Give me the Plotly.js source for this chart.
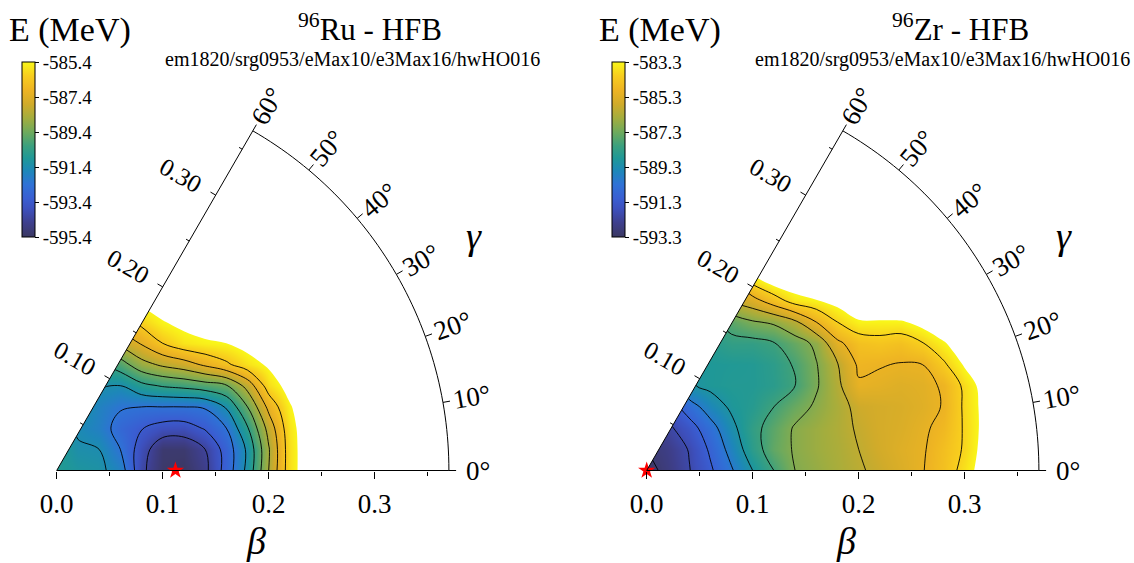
<!DOCTYPE html>
<html>
<head>
<meta charset="utf-8">
<script src="https://cdn.plot.ly/plotly-3.0.1.min.js"></script>
<style>html,body{margin:0;padding:0;background:#fff;}</style>
</head>
<body>
<div id="chart" style="width:1134px;height:563px;"></div>
<script>
// ---- data ----
// cartesian grid of the beta-gamma plane: x = beta*cos(gamma), y = beta*sin(gamma)
const xGrid = [0,0.02,0.04,0.06,0.08,0.10,0.12,0.14,0.16,0.18,0.20,0.22,0.24,0.26,0.28,0.30,0.32,0.34];
const yGrid = [0,0.02,0.04,0.06,0.08,0.10,0.12,0.14,0.16,0.18,0.20];

// HFB energy surface of 96Ru (MeV), rows = yGrid, columns = xGrid
const energyRu = [
 [-590.76,-591.04,-591.17,-591.85,-594.15,-595.25,-595.35,-594.65,-593.0,-591.13,-588.4,-585.85,-584.6,-584.6,-584.6,-584.6,-584.6,-584.6],
 [-590.67,-591.31,-591.4,-592.4,-593.9,-595.15,-595.15,-594.4,-593.0,-591.22,-588.49,-585.85,-584.6,-584.6,-584.6,-584.6,-584.6,-584.6],
 [-590.58,-591.5,-591.9,-592.8,-593.35,-593.8,-593.85,-593.3,-592.4,-590.49,-588.04,-585.76,-584.6,-584.6,-584.6,-584.6,-584.6,-584.6],
 [-590.4,-591.04,-591.8,-592.3,-592.4,-592.4,-592.4,-592.3,-591.31,-589.4,-587.13,-585.49,-584.6,-584.6,-584.6,-584.6,-584.6,-584.6],
 [-590.04,-590.49,-591.31,-591.4,-590.67,-590.31,-590.13,-589.85,-589.49,-588.04,-585.9,-585.04,-584.6,-584.6,-584.6,-584.6,-584.6,-584.6],
 [-589.58,-590.04,-590.49,-589.85,-588.76,-588.22,-587.85,-587.22,-586.58,-585.81,-585.26,-584.6,-584.6,-584.6,-584.6,-584.6,-584.6,-584.6],
 [-588.67,-588.67,-588.49,-588.13,-587.31,-586.4,-585.76,-585.54,-585.4,-585.04,-584.6,-584.6,-584.6,-584.6,-584.6,-584.6,-584.6,-584.6],
 [-587.76,-587.58,-587.31,-586.85,-586.13,-585.45,-585.13,-584.86,-584.6,-584.6,-584.6,-584.6,-584.6,-584.6,-584.6,-584.6,-584.6,-584.6],
 [-586.85,-586.4,-585.94,-585.58,-585.13,-584.86,-584.6,-584.6,-584.6,-584.6,-584.6,-584.6,-584.6,-584.6,-584.6,-584.6,-584.6,-584.6],
 [-585.94,-585.49,-585.22,-585.04,-584.86,-584.6,-584.6,-584.6,-584.6,-584.6,-584.6,-584.6,-584.6,-584.6,-584.6,-584.6,-584.6,-584.6],
 [-585.49,-585.04,-584.86,-584.67,-584.6,-584.6,-584.6,-584.6,-584.6,-584.6,-584.6,-584.6,-584.6,-584.6,-584.6,-584.6,-584.6,-584.6]
];

// HFB energy surface of 96Zr (MeV)
const energyZr = [
 [-593.3,-592.75,-592.05,-591.15,-590.1,-589.0,-588.0,-587.0,-586.7,-586.4,-586.1,-585.8,-585.45,-585.05,-584.5,-583.7,-582.8,-582.0],
 [-593.0,-592.6,-591.95,-590.85,-589.65,-588.45,-587.5,-586.9,-586.6,-586.35,-586.0,-585.65,-585.35,-585.1,-584.55,-583.9,-582.9,-582.0],
 [-592.5,-592.2,-591.45,-590.4,-589.25,-588.3,-587.6,-586.9,-586.6,-586.3,-585.9,-585.6,-585.45,-585.15,-584.75,-583.9,-583.0,-582.0],
 [-592.0,-591.6,-590.5,-589.5,-588.85,-588.6,-588.0,-587.4,-586.85,-586.35,-585.75,-585.6,-585.5,-585.3,-584.95,-583.85,-583.0,-582.0],
 [-591.5,-591.0,-589.1,-588.8,-588.7,-588.7,-588.5,-588.0,-587.1,-586.2,-585.1,-585.2,-585.35,-585.25,-584.9,-583.8,-582.9,-582.0],
 [-590.0,-589.5,-589.0,-588.8,-588.75,-588.7,-588.45,-587.9,-587.05,-586.05,-584.85,-584.95,-585.05,-585.0,-584.15,-583.2,-582.5,-582.0],
 [-589.5,-589.0,-588.8,-588.6,-588.3,-588.3,-588.05,-587.45,-586.8,-585.2,-584.5,-584.35,-584.5,-584.05,-583.4,-582.7,-582.2,-582.0],
 [-589.0,-588.7,-588.5,-588.3,-587.6,-587.1,-586.85,-586.2,-585.0,-584.0,-583.4,-583.4,-583.4,-583.0,-582.5,-582.0,-582.0,-582.0],
 [-588.5,-588.2,-588.0,-587.5,-586.0,-585.4,-584.5,-583.6,-583.35,-583.0,-582.5,-582.3,-582.0,-582.0,-582.0,-582.0,-582.0,-582.0],
 [-587.5,-587.0,-586.5,-586.0,-585.0,-583.6,-582.8,-582.7,-582.5,-582.3,-582.0,-582.0,-582.0,-582.0,-582.0,-582.0,-582.0,-582.0],
 [-586.5,-586.0,-585.5,-585.0,-584.5,-582.5,-582.3,-582.0,-582.0,-582.0,-582.0,-582.0,-582.0,-582.0,-582.0,-582.0,-582.0,-582.0]
];

const ruRange = [-595.4, -585.4];
const zrRange = [-593.3, -583.3];
const ruColorbarTicks = [-595.4, -593.4, -591.4, -589.4, -587.4, -585.4];
const zrColorbarTicks = [-593.3, -591.3, -589.3, -587.3, -585.3, -583.3];
const ruLevels = {start: -594.4, end: -586.4, size: 1};
const zrLevels = {start: -593, end: -584, size: 1};
const ruMinimum = {beta: 0.112, gammaDeg: 0};
const zrMinimum = {beta: 0.0, gammaDeg: 0};

const betaTicks = [0, 0.1, 0.2, 0.3];
const betaTickText = ['0.0', '0.1', '0.2', '0.3'];
const betaMinorTicks = [0.05, 0.15, 0.25, 0.35];
const edgeTicks = [0.1, 0.2, 0.3];
const edgeTickText = ['0.10', '0.20', '0.30'];
const edgeMinorTicks = [0.05, 0.15, 0.25, 0.35];
const gammaTicks = [0, 10, 20, 30, 40, 50, 60];
const betaMax = 0.37;
const titles = ['<sup>96</sup>Ru - HFB', '<sup>96</sup>Zr - HFB'];
const subtitle = 'em1820/srg0953/eMax10/e3Max16/hwHO016';

// ---- styling ----
const FONT = 'Liberation Serif, Times New Roman, serif';
const W = 1134, H = 563;
const PX = 1060;               // pixels per unit of beta
const baseY = 470.5;           // baseline pixel row
const colorscale = [
 [0.00,'#3b3862'],[0.08,'#3e3f8c'],[0.16,'#3d50bd'],[0.22,'#3a5ed2'],
 [0.30,'#2f72d6'],[0.38,'#1d88b8'],[0.45,'#1f9897'],[0.52,'#3ba07e'],
 [0.60,'#6faa5c'],[0.68,'#a3ad3e'],[0.76,'#d1ab2a'],[0.84,'#eeb423'],
 [0.92,'#f8cd1e'],[1.00,'#f9f719']
];

const panels = [
 {xa:'x', ya:'y', z:energyRu, rng:ruRange, lev:ruLevels, cbt:ruColorbarTicks, mn:ruMinimum, title:titles[0], off:0},
 {xa:'x2', ya:'y2', z:energyZr, rng:zrRange, lev:zrLevels, cbt:zrColorbarTicks, mn:zrMinimum, title:titles[1], off:590}
];

const traces = [], shapes = [], annotations = [];
const rad = d => d * Math.PI / 180;
const pt = (r, g) => [r * Math.cos(rad(g)), r * Math.sin(rad(g))];
const whiteBox = (P, xs, ys) => ({type: 'scatter', mode: 'lines', xaxis: P.xa, yaxis: P.ya,
  hoverinfo: 'skip', x: xs, y: ys, fill: 'toself', fillcolor: '#ffffff',
  line: {width: 0, color: 'rgba(0,0,0,0)'}});

panels.forEach(P => {
  const common = {x: xGrid, y: yGrid, z: P.z, xaxis: P.xa, yaxis: P.ya, hoverinfo: 'skip'};
  // smooth colour surface
  traces.push(Object.assign({}, common, {
    type: 'contour', colorscale: colorscale, zauto: false, zmin: P.rng[0], zmax: P.rng[1],
    contours: {coloring: 'heatmap', showlines: false, start: P.lev.start, end: P.lev.end, size: P.lev.size},
    line: {width: 0},
    showscale: true,
    colorbar: {
      x: (22 + P.off) / W, xanchor: 'left', xref: 'paper', xpad: 0, ypad: 0,
      y: 1 - 62 / H, yanchor: 'top', yref: 'paper',
      len: 175, lenmode: 'pixels', thickness: 13, thicknessmode: 'pixels',
      outlinewidth: 1, outlinecolor: '#000', borderwidth: 0,
      ticks: 'outside', ticklen: 4, tickwidth: 1, tickcolor: '#000',
      tickmode: 'array', tickvals: P.cbt, ticktext: P.cbt.map(v => v.toFixed(1)),
      tickfont: {family: FONT, size: 19, color: '#000'}
    }
  }));
  // white outside the energy window (the shaded side is the one failing the constraint)
  traces.push(Object.assign({}, common, {
    type: 'contour', showscale: false,
    contours: {type: 'constraint', operation: '<', value: P.rng[1]},
    fillcolor: '#ffffff', line: {width: 0, color: 'rgba(0,0,0,0)', smoothing: 1}
  }));
  // black iso-energy lines
  traces.push(Object.assign({}, common, {
    type: 'contour', showscale: false,
    contours: {coloring: 'none', start: P.lev.start, end: P.lev.end, size: P.lev.size},
    line: {color: '#000', width: 0.9, smoothing: 1}
  }));
  // masks: beyond gamma = 60 deg, below the baseline, along the outer grid borders
  const t60 = Math.tan(rad(60));
  traces.push(whiteBox(P, [0, 0.16, -0.03, -0.03, 0], [0, 0.16 * t60, 0.16 * t60, 0, 0]));
  traces.push(whiteBox(P, [-0.03, 0.38, 0.38, -0.03, -0.03], [0, 0, -0.015, -0.015, 0]));
  traces.push(whiteBox(P, [-0.03, 0.38, 0.38, -0.03, -0.03], [0.195, 0.195, 0.27, 0.27, 0.195]));
  traces.push(whiteBox(P, [0.335, 0.36, 0.36, 0.335, 0.335], [0, 0, 0.27, 0.27, 0]));
  // minimum
  const m = pt(P.mn.beta, P.mn.gammaDeg);
  traces.push({type: 'scatter', mode: 'markers', xaxis: P.xa, yaxis: P.ya, hoverinfo: 'skip',
    x: [m[0]], y: [m[1]], cliponaxis: false,
    marker: {symbol: 'star', size: 13, color: '#ff0000', line: {width: 0}}});

  // ---- frame ----
  const L = {color: '#000', width: 1};
  const sref = {xref: P.xa, yref: P.ya, layer: 'above'};
  shapes.push(Object.assign({type: 'line', x0: 0, y0: 0, x1: betaMax, y1: 0, line: L}, sref));
  const e60 = pt(betaMax, 60);
  shapes.push(Object.assign({type: 'line', x0: 0, y0: 0, x1: e60[0], y1: e60[1], line: L}, sref));
  let path = '';
  for (let g = 0; g <= 60; g += 1) {
    const p = pt(betaMax, g);
    path += (g === 0 ? 'M' : 'L') + p[0].toFixed(5) + ',' + p[1].toFixed(5);
  }
  shapes.push(Object.assign({type: 'path', path: path, line: L}, sref));
  // angular ticks and labels
  gammaTicks.forEach(g => {
    const a = pt(betaMax, g), b = pt(betaMax + 7.2 / PX, g), c = pt(betaMax + 29 / PX, g);
    shapes.push(Object.assign({type: 'line', x0: a[0], y0: a[1], x1: b[0], y1: b[1], line: L}, sref));
    annotations.push({xref: P.xa, yref: P.ya, x: c[0], y: c[1], text: g + '°', showarrow: false,
      xanchor: 'center', yanchor: 'middle', textangle: -g,
      font: {family: FONT, size: 27, color: '#000'}});
  });
  // radial ticks along the 60 deg edge
  const nx = -Math.sin(rad(60)), ny = Math.cos(rad(60));
  edgeTicks.forEach((r, i) => {
    const a = pt(r, 60);
    shapes.push(Object.assign({type: 'line', x0: a[0], y0: a[1],
      x1: a[0] + nx * 6 / PX, y1: a[1] + ny * 6 / PX, line: L}, sref));
    annotations.push({xref: P.xa, yref: P.ya, x: a[0] + nx * 40 / PX, y: a[1] + ny * 40 / PX,
      text: edgeTickText[i], showarrow: false, xanchor: 'center', yanchor: 'middle', textangle: 30,
      font: {family: FONT, size: 25, color: '#000'}});
  });
  edgeMinorTicks.forEach(r => {
    const a = pt(r, 60);
    shapes.push(Object.assign({type: 'line', x0: a[0], y0: a[1],
      x1: a[0] + nx * 3.6 / PX, y1: a[1] + ny * 3.6 / PX, line: L}, sref));
  });
  // axis names
  annotations.push({xref: P.xa, yref: P.ya, x: (474 - 56.7) / PX, y: (baseY - 236) / PX,
    text: '<i>γ</i>', showarrow: false, xanchor: 'center', yanchor: 'middle',
    font: {family: FONT, size: 38, color: '#000'}});
  annotations.push({xref: P.xa, yref: P.ya, x: (256 - 56.7) / PX, y: (baseY - 541) / PX,
    text: '<i>β</i>', showarrow: false, xanchor: 'center', yanchor: 'middle',
    font: {family: FONT, size: 38, color: '#000'}});
  // titles
  annotations.push({xref: 'paper', yref: 'paper', x: (370 + P.off) / W, y: 1 - 27 / H,
    text: P.title, showarrow: false, xanchor: 'center', yanchor: 'middle',
    font: {family: FONT, size: 31, color: '#000'}});
  annotations.push({xref: 'paper', yref: 'paper', x: (352 + P.off) / W, y: 1 - 60 / H,
    text: subtitle, showarrow: false, xanchor: 'center', yanchor: 'middle',
    font: {family: FONT, size: 20, color: '#000'}});
  annotations.push({xref: 'paper', yref: 'paper', x: (70 + P.off) / W, y: 1 - 30 / H,
    text: 'E (MeV)', showarrow: false, xanchor: 'center', yanchor: 'middle',
    font: {family: FONT, size: 34, color: '#000'}});
});

function xAxis(domPx, originPx) {
  return {
    domain: [domPx[0] / W, domPx[1] / W],
    range: [(domPx[0] - originPx) / PX, (domPx[1] - originPx) / PX],
    anchor: 'free', position: (H - baseY) / H,
    showgrid: false, zeroline: false, showline: false,
    ticks: 'outside', ticklen: 7, tickwidth: 1, tickcolor: '#000',
    tickmode: 'array', tickvals: betaTicks, ticktext: betaTickText,
    tickfont: {family: FONT, size: 27, color: '#000'},
    ticklabelstandoff: 2,
    minor: {tickmode: 'array', tickvals: betaMinorTicks, ticks: 'outside', ticklen: 4,
            tickwidth: 1, tickcolor: '#000', showgrid: false},
    fixedrange: true
  };
}
function yAxis(anchor) {
  return {domain: [0, 1], range: [-(H - baseY) / PX, baseY / PX], visible: false,
          anchor: anchor, fixedrange: true, showgrid: false, zeroline: false};
}

const layout = {
  width: W, height: H, margin: {l: 0, r: 0, t: 0, b: 0},
  paper_bgcolor: '#ffffff', plot_bgcolor: 'rgba(0,0,0,0)',
  showlegend: false, font: {family: FONT, color: '#000'},
  xaxis: xAxis([0, 560], 56.7), yaxis: yAxis('x'),
  xaxis2: xAxis([590, 1134], 646.7), yaxis2: yAxis('x2'),
  shapes: shapes, annotations: annotations
};

Plotly.newPlot('chart', traces, layout, {displayModeBar: false, staticPlot: true});
</script>
</body>
</html>
